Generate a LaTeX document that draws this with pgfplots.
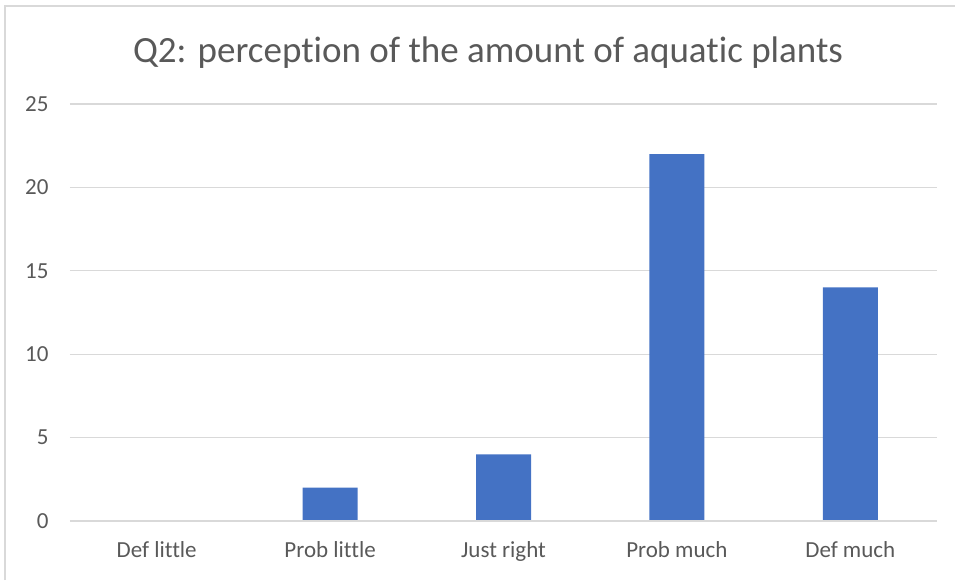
\documentclass[border=0pt]{standalone}
\usepackage{fontspec}
\setmainfont{Carlito}[Ligatures=NoCommon]
\usepackage{pgfplots}
\pgfplotsset{compat=1.18}
\definecolor{barblue}{HTML}{4472C4}
\definecolor{gridgray}{HTML}{D9D9D9}
\definecolor{txtgray}{HTML}{595959}
\begin{document}
\begin{tikzpicture}[x=1pt,y=1pt]
\path[use as bounding box] (0,0) rectangle (955,581);
\draw[gridgray,line width=1.5pt] (5,1) -- (5,575) -- (960,575);
\node[txtgray,font=\fontsize{37}{42}\selectfont] at (488,528) {Q2: perception of the amount of aquatic plants};
\begin{axis}[
  at={(70pt,60pt)}, anchor=south west,
  scale only axis, width=867pt, height=417pt,
  xmin=-0.5, xmax=4.5, ymin=0, ymax=25,
  ytick={0,5,...,25},
  xtick={0,1,2,3,4},
  xticklabels={Def little,Prob little,Just right,Prob much,Def much},
  axis line style={draw=none},
  axis x line*=bottom,
  major tick length=0pt,
  ymajorgrids, grid style={gridgray,line width=1.2pt},
  tick label style={txtgray,font=\fontsize{23}{26}\selectfont},
  /pgf/number format/assume math mode=true,
  yticklabel style={xshift=-18pt},
  xticklabel style={yshift=-17pt},
  ybar, bar width=55pt,
  clip=false,
]
\addplot[fill=barblue,draw=none] coordinates {(0,0) (1,2) (2,4) (3,22) (4,14)};
\draw[gridgray,line width=1.2pt] (axis cs:-0.5,0) -- (axis cs:4.5,0);
\end{axis}
\end{tikzpicture}
\end{document}
